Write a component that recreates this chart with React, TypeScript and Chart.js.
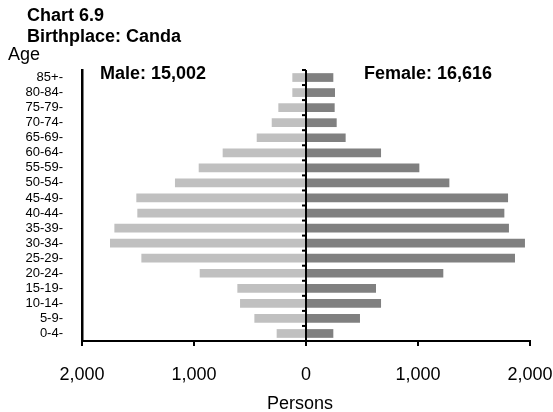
import React, { useEffect, useRef } from "react";
import { Chart, registerables } from "chart.js";

Chart.register(...registerables);

const ageGroups = [
  "85+-", "80-84-", "75-79-", "70-74-", "65-69-", "60-64-", "55-59-", "50-54-", "45-49-",
  "40-44-", "35-39-", "30-34-", "25-29-", "20-24-", "15-19-", "10-14-", "5-9-", "0-4-",
];
const maleValues = [122, 122, 247, 306, 440, 744, 958, 1170, 1515, 1506, 1711, 1750, 1470, 949, 613, 589, 461, 262];
const femaleValues = [244, 259, 256, 274, 354, 670, 1012, 1280, 1804, 1771, 1812, 1955, 1866, 1226, 625, 670, 482, 244];
const xTicks = [-2000, -1000, 0, 1000, 2000];

const titleLine1 = "Chart 6.9";
const titleLine2 = "Birthplace: Canda";
const yTitle = "Age";
const xTitle = "Persons";
const maleLabel = "Male: 15,002";
const femaleLabel = "Female: 16,616";

const FONT = "'Liberation Sans', Arial, sans-serif";

const textPlugin = {
  id: "textPlugin",
  afterDraw(chart: any) {
    const ctx = chart.ctx;
    const xs = chart.scales.x;
    const ys = chart.scales.y;
    const area = chart.chartArea;
    ctx.save();
    const zx = xs.getPixelForValue(0);
    ctx.strokeStyle = "#000";
    ctx.lineWidth = 2;
    ctx.beginPath();
    ctx.moveTo(zx, area.top);
    ctx.lineTo(zx, area.bottom);
    ctx.stroke();
    const n = ageGroups.length;
    for (let i = 0; i <= n; i++) {
      const y = ys.getPixelForValue(i - 0.5);
      ctx.beginPath();
      ctx.moveTo(zx - 4, y);
      ctx.lineTo(zx, y);
      ctx.stroke();
    }

    ctx.fillStyle = "#000";
    ctx.textBaseline = "alphabetic";
    ctx.textAlign = "left";
    ctx.font = `bold 18px ${FONT}`;
    ctx.fillText(titleLine1, 27, 21);
    ctx.fillText(titleLine2, 27, 42);
    ctx.fillText(maleLabel, 100, 79);
    ctx.fillText(femaleLabel, 364, 79);
    ctx.font = `18px ${FONT}`;
    ctx.fillText(yTitle, 8, 60);
    ctx.textAlign = "center";
    ctx.fillText(xTitle, 300, 409);
    ctx.restore();
  },
};

export default function App() {
  const ref = useRef<HTMLCanvasElement>(null);
  useEffect(() => {
    document.body.style.margin = "0";
    const canvas = ref.current!;
    const chart = new Chart(canvas, {
      type: "bar",
      data: {
        labels: ageGroups,
        datasets: [
          {
            label: "Male",
            data: maleValues.map((v) => -v),
            backgroundColor: "#c0c0c0",
            borderWidth: 0,
            barPercentage: 0.58,
            categoryPercentage: 1,
          },
          {
            label: "Female",
            data: femaleValues,
            backgroundColor: "#808080",
            borderWidth: 0,
            barPercentage: 0.58,
            categoryPercentage: 1,
          },
        ],
      },
      options: {
        indexAxis: "y",
        animation: false,
        responsive: false,
        devicePixelRatio: 1,
        layout: { padding: { top: 70, right: 0, left: 0, bottom: 0 } },
        plugins: { legend: { display: false }, tooltip: { enabled: false } },
        scales: {
          x: {
            stacked: true,
            min: -2000,
            max: 2000,
            afterBuildTicks: (scale: any) => {
              scale.ticks = xTicks.map((v) => ({ value: v }));
            },
            afterFit: (scale: any) => {
              scale.height = 71;
              scale.paddingLeft = 0;
              scale.paddingRight = 23;
            },
            grid: {
              display: true,
              drawOnChartArea: false,
              drawTicks: true,
              tickLength: 5,
              color: "#000",
              lineWidth: 2,
            },
            border: { display: true, color: "#000", width: 2 },
            ticks: {
              color: "#000",
              font: { family: FONT, size: 18 },
              padding: 18,
              maxRotation: 0,
              callback: (v: any) => Math.abs(Number(v)).toLocaleString("en-US"),
            },
          },
          y: {
            stacked: true,
            afterFit: (scale: any) => {
              scale.width = 82;
            },
            grid: { display: false },
            border: { display: true, color: "#000", width: 2.5 },
            ticks: {
              color: "#000",
              font: { family: FONT, size: 13 },
              padding: 11,
              autoSkip: false,
            },
          },
        },
      },
      plugins: [textPlugin],
    } as any);
    return () => chart.destroy();
  }, []);
  return (
    <div style={{ width: 553, height: 412 }}>
      <canvas ref={ref} width={553} height={412} />
    </div>
  );
}
